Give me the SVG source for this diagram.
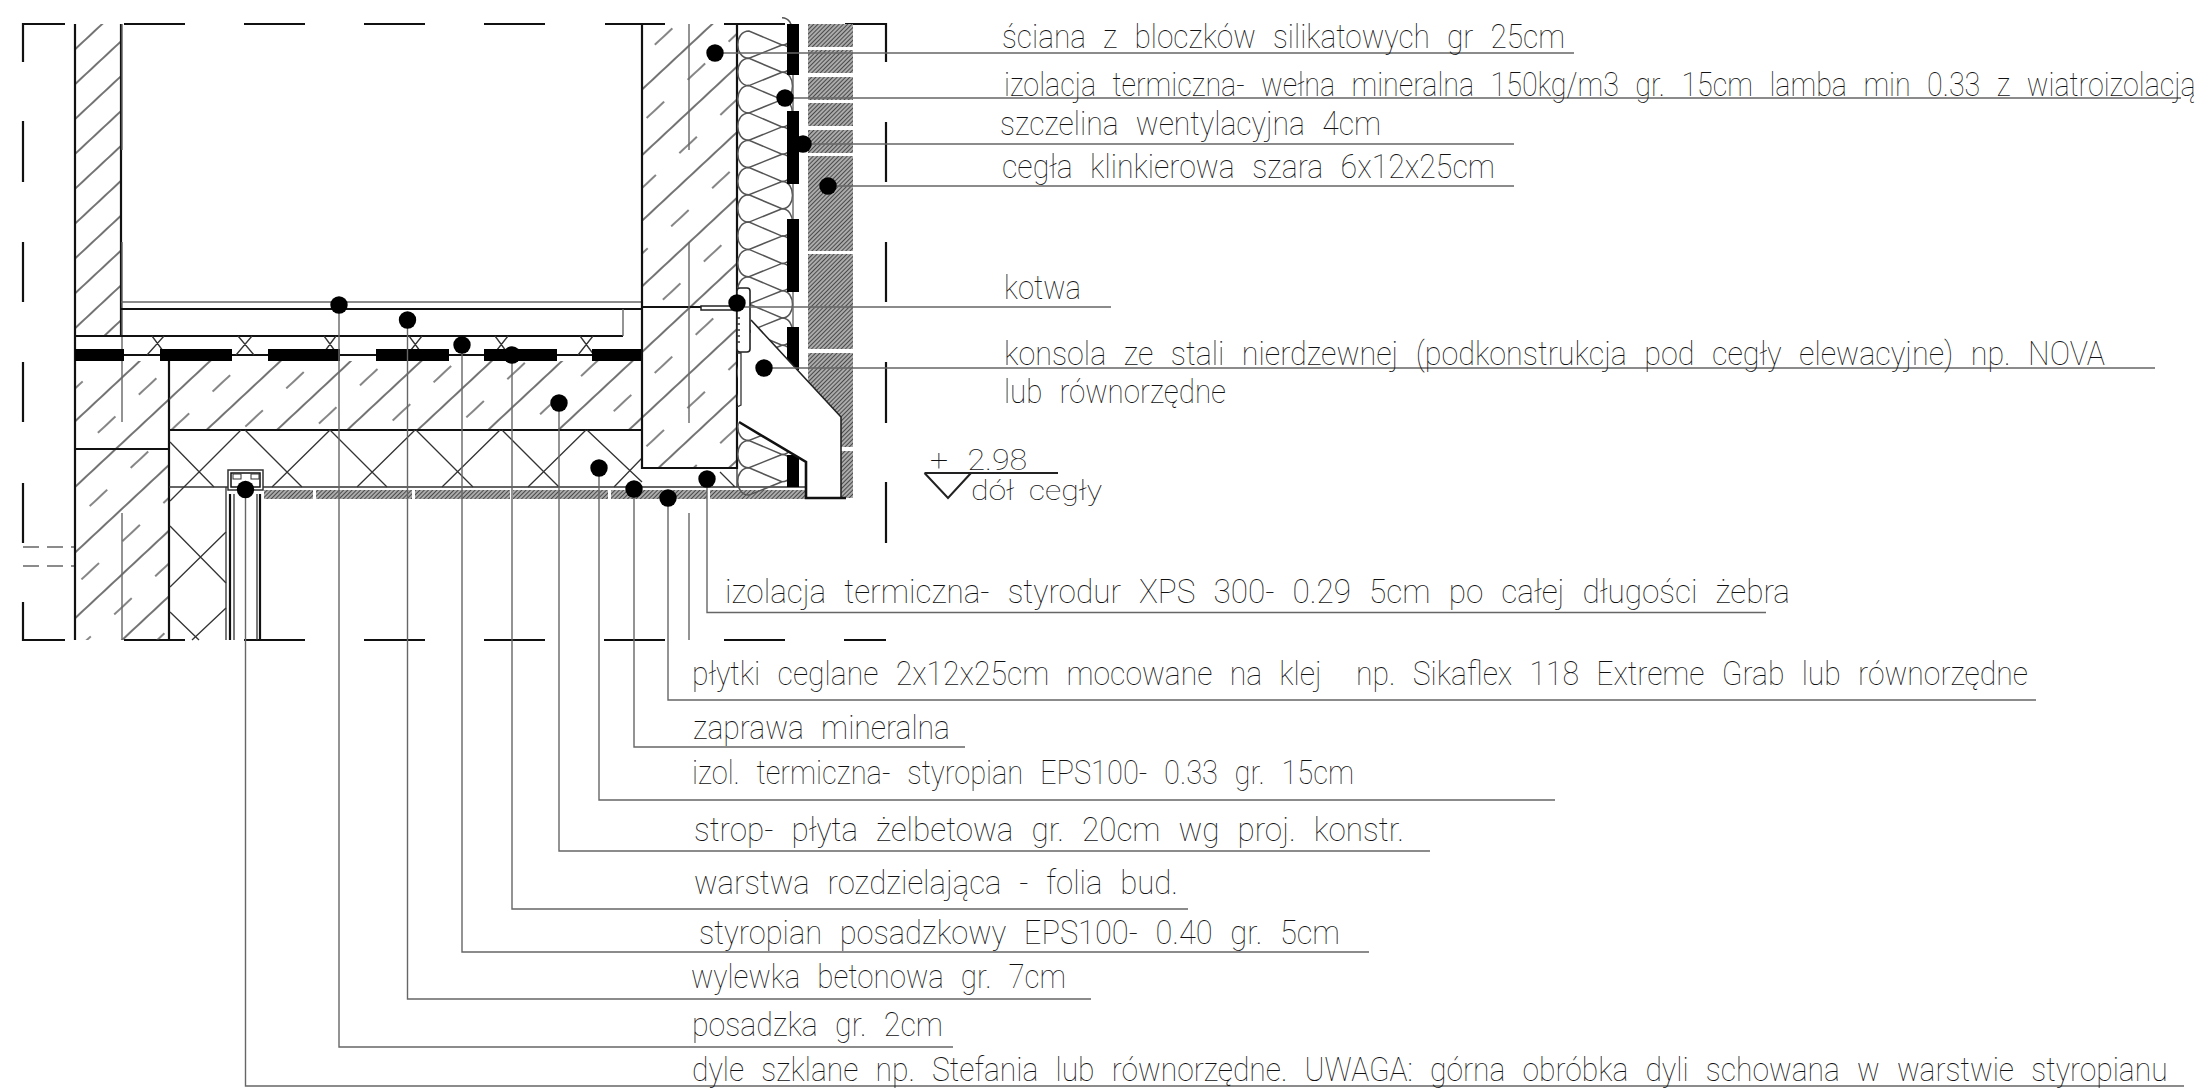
<svg xmlns="http://www.w3.org/2000/svg" width="2209" height="1089" viewBox="0 0 2209 1089">
<style>
.b{fill:none;stroke:#111;stroke-width:2.2}
.t{fill:none;stroke:#333;stroke-width:1.3}
.g{fill:none;stroke:#666;stroke-width:1.4}
.l{fill:none;stroke:#555;stroke-width:1.5}
.k{fill:#000}
.d{fill:#000}
.h{fill:url(#brk);stroke:none}
text{font-family:"Roboto","Liberation Sans",sans-serif;font-weight:100;font-size:33px;fill:#111;word-spacing:11px;white-space:pre}
</style>
<defs>
<pattern id="sol" width="60" height="25.5" patternUnits="userSpaceOnUse" patternTransform="translate(75 48) rotate(-43)"><line x1="0" y1="1" x2="60" y2="1" stroke="#444" stroke-width="1.3"/></pattern>
<pattern id="con" width="56" height="48" patternUnits="userSpaceOnUse" patternTransform="translate(75 420) rotate(-43)"><line x1="0" y1="1" x2="56" y2="1" stroke="#444" stroke-width="1.3"/><line x1="8" y1="25" x2="32" y2="25" stroke="#444" stroke-width="1.3"/></pattern>
<pattern id="brk" width="3" height="3" patternUnits="userSpaceOnUse" patternTransform="rotate(-45)"><rect width="3" height="3" fill="#bcbcbc"/><line x1="0" y1="1.5" x2="3" y2="1.5" stroke="#4a4a4a" stroke-width="1.3"/></pattern>
<path id="w" d="M782 0C796 0 796 27.3 782 27.3L749 13.3C734 13.3 734 40.6 749 40.6L782 27.3" class="l"/>
</defs>

<g id="frame">
<path class="b" d="M23 62V24H65M124 24H185M244 24H305M364 24H425M484 24H545M605 24H665M724 24H785M845 24H886V62M886 122V182M886 242V302M886 362V423M886 482V543M23 121V182M23 242V302M23 362V422M23 483V543M23 602V640H65M124 640H185M244 640H305M364 640H425M484 640H545M604 640H665M724 640H785M844 640H886V640"/>
<path class="g" stroke-dasharray="16 8" d="M23 547H75M23 566H75"/>
</g>

<g id="left-wall">
<rect x="75" y="24" width="46" height="312" fill="url(#sol)"/>
<rect x="75" y="361" width="94" height="279" fill="url(#con)"/>
<path class="b" d="M75 24V640M121 24V336M75 449H169M169 361V640"/>
<path class="g" d="M122 24V150M122 242V422M122 513V640"/>
</g>

<g id="slab">
<rect x="169" y="361" width="473" height="69" fill="url(#con)"/>
<path class="b" d="M169 430H642"/>
</g>

<g id="floor">
<path class="g" d="M121 302H642"/>
<path class="b" d="M121 309H642M75 336H623M75 355H642"/>
<path class="g" d="M623 309V336"/>
<path class="t" d="M147 355L164 336M152 336L166 355M236 355L252 336M238 336L254 355M322 355L336 336M324 336L338 355M407 355L422 336M409 336L423 355M493 355L508 336M495 336L509 355M578 355L593 336M580 336L594 355"/>
<g class="k"><rect x="75" y="349" width="49" height="12"/><rect x="160" y="349" width="72" height="12"/><rect x="268" y="349" width="72" height="12"/><rect x="376" y="349" width="73" height="12"/><rect x="484" y="349" width="73" height="12"/><rect x="592" y="349" width="50" height="12"/></g>
</g>

<g id="ceiling-insulation">
<path class="t" d="M170 501L241 430M272 487L330 430M357 487L415 430M442 487L500 430M528 487L586 430M614 487L642 458M170 442L214 487M245 430L302 487M330 430L387 487M416 430L473 487M502 430L559 487M587 430L642 482M226 532L170 587M170 526L226 583M170 612L199 640M226 608L192 640"/>
<path class="t" d="M169 487H806M226 487V640M737 468V487M720 472L735 487"/>
<g class="h"><rect x="264" y="490" width="49" height="9"/><rect x="316" y="490" width="96" height="9"/><rect x="415" y="490" width="95" height="9"/><rect x="513" y="490" width="95" height="9"/><rect x="611" y="490" width="96" height="9"/><rect x="710" y="490" width="96" height="9"/></g>
</g>

<g id="window">
<path class="b" d="M230 494V640M260 494V640"/>
<path class="t" d="M234 494V640M257 494V640"/>
<rect x="228" y="470" width="35" height="20" fill="#fff" stroke="#333" stroke-width="1.5"/>
<rect x="231" y="473" width="29" height="14" fill="#fff" stroke="#111" stroke-width="1.5"/>
<rect x="233" y="474" width="8" height="5" fill="#fff" stroke="#333"/><rect x="251" y="474" width="8" height="5" fill="#fff" stroke="#333"/>
</g>

<g id="right-wall">
<rect x="642" y="24" width="95" height="444" fill="url(#con)"/>
<path class="b" d="M642 24V468H737V24M642 307H737"/>
<path class="g" d="M689 24V150M689 242V423M689 513V640"/>
</g>

<g id="wool">
<use href="#w" y="17.7"/><use href="#w" y="45"/><use href="#w" y="72.3"/><use href="#w" y="99.6"/><use href="#w" y="126.9"/><use href="#w" y="154.2"/><use href="#w" y="181.5"/><use href="#w" y="208.8"/><use href="#w" y="236.1"/><use href="#w" y="263.4"/><use href="#w" y="290.7"/><use href="#w" y="318"/><use href="#w" y="345.3"/><use href="#w" y="372.6"/><use href="#w" y="399.9"/><use href="#w" y="427.2"/><use href="#w" y="454.5"/>
<path class="g" d="M793 24V340"/>
<g class="k"><rect x="787" y="24" width="12" height="51"/><rect x="787" y="111" width="12" height="73"/><rect x="787" y="219" width="12" height="73"/><rect x="787" y="327" width="12" height="43"/><rect x="787" y="455" width="12" height="32"/></g>
</g>

<g id="brick" class="h">
<rect x="808" y="24" width="45" height="23"/><rect x="808" y="50" width="45" height="23"/><rect x="808" y="77" width="45" height="23"/><rect x="808" y="103" width="45" height="23"/><rect x="808" y="130" width="45" height="23"/><rect x="808" y="156" width="45" height="95"/><rect x="808" y="254" width="45" height="95"/><rect x="808" y="353" width="45" height="94"/><rect x="841" y="451" width="12" height="47"/>
</g>

<g id="console">
<path d="M738 352H751V320L841 417V498H806V462L738 423Z" fill="#fff"/>
<path d="M751 320L841 417V498" fill="none" stroke="#222" stroke-width="1.6"/>
<path d="M739 422L806 462V498H846" fill="none" stroke="#111" stroke-width="2.6"/>
<path class="t" d="M737 353L741 353 741 405 737 407"/>
<rect x="737" y="288" width="13" height="64" rx="3" fill="#fff" stroke="#222" stroke-width="1.6"/>
<path class="t" d="M737 318h3M737 324h3M737 330h3M737 336h3M737 342h3"/>
<rect x="701" y="306" width="36" height="4" fill="#fff" stroke="#222" stroke-width="1.5"/>
</g>

<g id="connectors">
<path class="g" d="M715 53H1574M785 98H2181M803 144H1514M828 186H1514M737 307H1111M764 368H2155M707 479V612.5H1766M668 498V700H2036M634 489V747H965M599 468V800H1555M559 403V851H1430M512 355V909H1188M462 345V952H1369M407.500 320V999H1091M339 305V1047H953M245.500 489V1086H2184"/>
<g class="d"><circle cx="715" cy="53" r="8.700"/><circle cx="785" cy="98" r="8.700"/><circle cx="803" cy="144" r="8.700"/><circle cx="828" cy="186" r="8.700"/><circle cx="737" cy="303" r="8.700"/><circle cx="764" cy="368" r="8.700"/><circle cx="707" cy="479" r="8.700"/><circle cx="668" cy="498" r="8.700"/><circle cx="634" cy="489" r="8.700"/><circle cx="599" cy="468" r="8.700"/><circle cx="559" cy="403" r="8.700"/><circle cx="512" cy="355" r="8.700"/><circle cx="462" cy="345" r="8.700"/><circle cx="407.500" cy="320" r="8.700"/><circle cx="339" cy="305" r="8.700"/><circle cx="245.500" cy="489.500" r="8.700"/></g>
</g>

<g id="level">
<path d="M924.500 473H1058M924.500 473L948 498L971 473" fill="none" stroke="#222" stroke-width="2"/>
<text x="930" y="470" textLength="97" lengthAdjust="spacingAndGlyphs" style="font-size:30px">+ 2.98</text>
<text x="971" y="500" textLength="131" lengthAdjust="spacingAndGlyphs" style="font-size:27px;word-spacing:6px">dół cegły</text>
</g>

<g id="labels">
<text x="1002" y="48" textLength="563" lengthAdjust="spacingAndGlyphs">ściana z bloczków silikatowych gr 25cm</text>
<text transform="translate(1004 96) scale(0.85 1)" textLength="1402" lengthAdjust="spacingAndGlyphs">izolacja termiczna- wełna mineralna 150kg/m3 gr. 15cm lamba min 0.33 z wiatroizolacją</text>
<text x="1000" y="135" textLength="381" lengthAdjust="spacingAndGlyphs">szczelina wentylacyjna 4cm</text>
<text x="1002" y="178" textLength="493" lengthAdjust="spacingAndGlyphs">cegła klinkierowa szara 6x12x25cm</text>
<text x="1004" y="299" textLength="77" lengthAdjust="spacingAndGlyphs">kotwa</text>
<text x="1004" y="365" textLength="1101" lengthAdjust="spacingAndGlyphs">konsola ze stali nierdzewnej (podkonstrukcja pod cegły elewacyjne) np. NOVA</text>
<text x="1004" y="403" textLength="222" lengthAdjust="spacingAndGlyphs">lub równorzędne</text>
<text x="725" y="603" textLength="1065" lengthAdjust="spacingAndGlyphs">izolacja termiczna- styrodur XPS 300- 0.29 5cm po całej długości żebra</text>
<text x="692" y="685" textLength="1336" lengthAdjust="spacingAndGlyphs">płytki ceglane 2x12x25cm mocowane na klej  np. Sikaflex 118 Extreme Grab lub równorzędne</text>
<text x="693" y="739" textLength="257" lengthAdjust="spacingAndGlyphs">zaprawa mineralna</text>
<text x="692" y="784" textLength="662" lengthAdjust="spacingAndGlyphs">izol. termiczna- styropian EPS100- 0.33 gr. 15cm</text>
<text x="694" y="841" textLength="710" lengthAdjust="spacingAndGlyphs">strop- płyta żelbetowa gr. 20cm wg proj. konstr.</text>
<text x="694" y="894" textLength="484" lengthAdjust="spacingAndGlyphs">warstwa rozdzielająca - folia bud.</text>
<text x="699" y="944" textLength="641" lengthAdjust="spacingAndGlyphs">styropian posadzkowy EPS100- 0.40 gr. 5cm</text>
<text x="691" y="988" textLength="375" lengthAdjust="spacingAndGlyphs">wylewka betonowa gr. 7cm</text>
<text x="692" y="1036" textLength="251" lengthAdjust="spacingAndGlyphs">posadzka gr. 2cm</text>
<text transform="translate(692 1081) scale(0.85 1)" textLength="1736" lengthAdjust="spacingAndGlyphs">dyle szklane np. Stefania lub równorzędne. UWAGA: górna obróbka dyli schowana w warstwie styropianu</text>
</g>
</svg>
